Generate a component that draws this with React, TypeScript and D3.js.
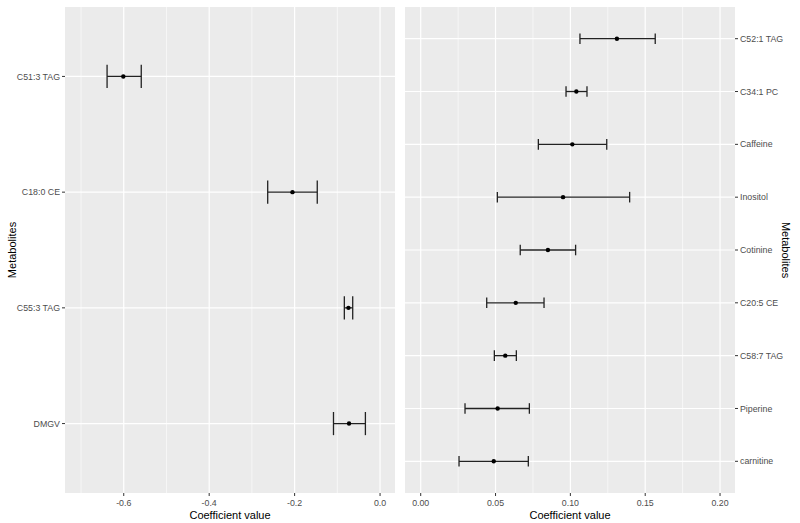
import React from 'react';
import * as d3 from 'd3';

// left panel (negative coefficients), listed top to bottom
const leftNames = ['C51:3 TAG', 'C18:0 CE', 'C55:3 TAG', 'DMGV'];
const leftEst = [-0.601, -0.205, -0.074, -0.0726];
const leftLo = [-0.639, -0.263, -0.0836, -0.109];
const leftHi = [-0.559, -0.147, -0.064, -0.0343];
const leftTicks = [-0.6, -0.4, -0.2, 0.0];
const leftMinor = [-0.7, -0.5, -0.3, -0.1];

// right panel (positive coefficients)
const rightNames = ['C52:1 TAG', 'C34:1 PC', 'Caffeine', 'Inositol', 'Cotinine', 'C20:5 CE', 'C58:7 TAG', 'Piperine', 'carnitine'];
const rightEst = [0.1311, 0.104, 0.1013, 0.0951, 0.085, 0.0635, 0.0565, 0.0514, 0.0488];
const rightLo = [0.1064, 0.0971, 0.0786, 0.0512, 0.0665, 0.0441, 0.0492, 0.0296, 0.0256];
const rightHi = [0.1567, 0.1111, 0.1243, 0.1396, 0.1035, 0.0824, 0.0639, 0.0726, 0.0719];
const rightTicks = [0.0, 0.05, 0.1, 0.15, 0.2];
const rightMinor = [0.025, 0.075, 0.125, 0.175];

const FONT = '"Liberation Sans", Arial, sans-serif';
const TOP = 7;
const BOTTOM = 493;

// ggplot prints a plain hyphen, not the unicode minus d3 uses
const fmt1 = (v: number) => d3.format('.1f')(v).replace('\u2212', '-');
const fmt2 = (v: number) => d3.format('.2f')(v).replace('\u2212', '-');

type PanelProps = {
  x0: number;
  x1: number;
  domain: [number, number];
  names: string[];
  est: number[];
  lo: number[];
  hi: number[];
  ticks: number[];
  minor: number[];
  fmt: (v: number) => string;
  side: 'left' | 'right';
};

function Panel({ x0, x1, domain, names, est, lo, hi, ticks, minor, fmt, side }: PanelProps) {
  const x = d3.scaleLinear().domain(domain).range([x0, x1]);
  const n = names.length;
  // ggplot discrete: positions 1..n, expanded 0.6 each side, first level at bottom
  const y = d3.scaleLinear().domain([0.4, n + 0.6]).range([BOTTOM, TOP]);
  const pos = (i: number) => y(n - i);
  const capHalf = Math.abs(y(0.1) - y(0));
  const axisX = side === 'left' ? x0 : x1;
  const dir = side === 'left' ? -1 : 1;

  return (
    <g>
      <rect x={x0} y={TOP} width={x1 - x0} height={BOTTOM - TOP} fill="#EBEBEB" />
      {minor.map((v) => (
        <line key={'m' + v} x1={x(v)} x2={x(v)} y1={TOP} y2={BOTTOM} stroke="#fff" strokeWidth={0.6} />
      ))}
      {ticks.map((v) => (
        <line key={'t' + v} x1={x(v)} x2={x(v)} y1={TOP} y2={BOTTOM} stroke="#fff" strokeWidth={1.2} />
      ))}
      {names.map((nm, i) => (
        <line key={'h' + nm} x1={x0} x2={x1} y1={pos(i)} y2={pos(i)} stroke="#fff" strokeWidth={1.2} />
      ))}
      {names.map((nm, i) => (
        <g key={'e' + nm} stroke="#222" strokeWidth={1.3}>
          <line x1={x(lo[i])} x2={x(hi[i])} y1={pos(i)} y2={pos(i)} />
          <line x1={x(lo[i])} x2={x(lo[i])} y1={pos(i) - capHalf} y2={pos(i) + capHalf} />
          <line x1={x(hi[i])} x2={x(hi[i])} y1={pos(i) - capHalf} y2={pos(i) + capHalf} />
        </g>
      ))}
      {names.map((nm, i) => (
        <circle key={'p' + nm} cx={x(est[i])} cy={pos(i)} r={2.2} fill="#000" />
      ))}
      {/* x axis */}
      {ticks.map((v) => (
        <g key={'xt' + v}>
          <line x1={x(v)} x2={x(v)} y1={BOTTOM} y2={BOTTOM + 3} stroke="#333" strokeWidth={1} />
          <text x={x(v)} y={BOTTOM + 13} textAnchor="middle" fontSize={8.8} fill="#4D4D4D" fontFamily={FONT}>
            {fmt(v)}
          </text>
        </g>
      ))}
      <text x={(x0 + x1) / 2} y={BOTTOM + 26} textAnchor="middle" fontSize={11} fill="#000" fontFamily={FONT}>
        Coefficient value
      </text>
      {/* y axis */}
      {names.map((nm, i) => (
        <g key={'yt' + nm}>
          <line x1={axisX} x2={axisX + dir * 3} y1={pos(i)} y2={pos(i)} stroke="#333" strokeWidth={1} />
          <text
            x={axisX + dir * 5}
            y={pos(i)}
            dy="0.35em"
            textAnchor={side === 'left' ? 'end' : 'start'}
            fontSize={8.8}
            fill="#4D4D4D"
            fontFamily={FONT}
          >
            {nm}
          </text>
        </g>
      ))}
      {side === 'left' ? (
        <text
          transform={`translate(12,${(TOP + BOTTOM) / 2}) rotate(-90)`}
          dy="0.35em"
          textAnchor="middle"
          fontSize={11}
          fill="#000"
          fontFamily={FONT}
        >
          Metabolites
        </text>
      ) : (
        <text
          transform={`translate(786,${(TOP + BOTTOM) / 2}) rotate(90)`}
          dy="0.35em"
          textAnchor="middle"
          fontSize={11}
          fill="#000"
          fontFamily={FONT}
        >
          Metabolites
        </text>
      )}
    </g>
  );
}

export default function App() {
  return (
    <svg width={800} height={523} style={{ position: 'absolute', left: 0, top: 0, background: '#fff' }}>
      <rect width={800} height={523} fill="#fff" />
      <Panel
        x0={65}
        x1={395}
        domain={[-0.7375, 0.035]}
        names={leftNames}
        est={leftEst}
        lo={leftLo}
        hi={leftHi}
        ticks={leftTicks}
        minor={leftMinor}
        fmt={fmt1}
        side="left"
      />
      <Panel
        x0={405}
        x1={735}
        domain={[-0.0105, 0.21]}
        names={rightNames}
        est={rightEst}
        lo={rightLo}
        hi={rightHi}
        ticks={rightTicks}
        minor={rightMinor}
        fmt={fmt2}
        side="right"
      />
    </svg>
  );
}
